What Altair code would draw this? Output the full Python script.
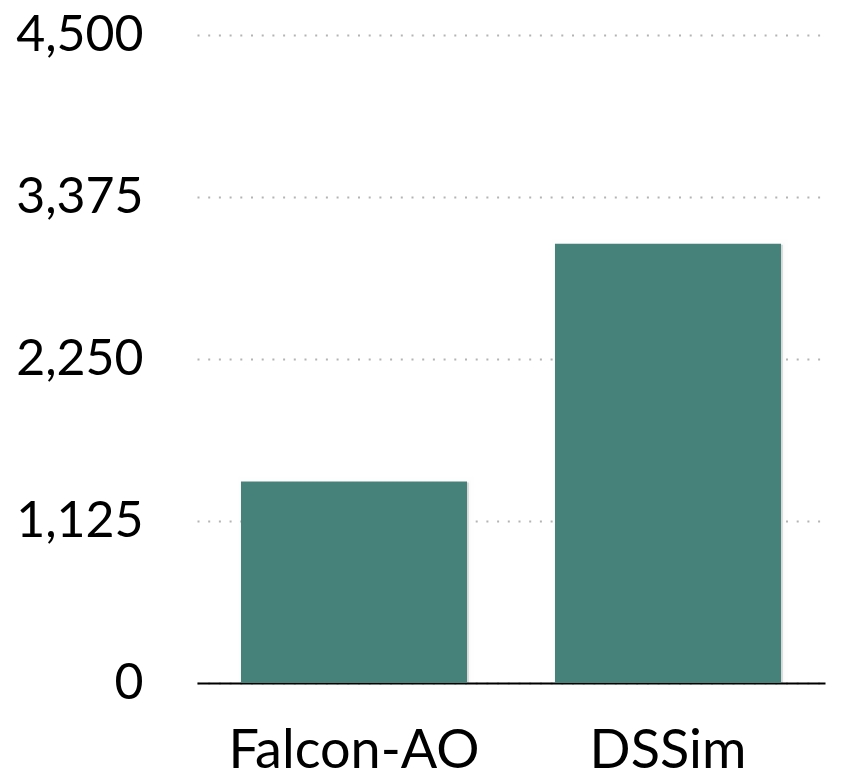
import altair as alt
import pandas as pd

categories = ["Falcon-AO", "DSSim"]
values = [1400, 3050]
y_ticks = [0, 1125, 2250, 3375, 4500]

df = pd.DataFrame({"system": categories, "value": values})

FONT = "Lato"
BAR = "#46817A"

x_enc = alt.X(
    "system:N",
    sort=categories,
    title=None,
    scale=alt.Scale(paddingInner=0.28, paddingOuter=0.14),
    axis=alt.Axis(
        labelAngle=0,
        labelFont=FONT,
        labelFontSize=54,
        labelColor="#000000",
        labelPadding=41,
        labelLimit=600,
        ticks=False,
        domain=True,
        domainColor="#000000",
        domainWidth=2,
        grid=False,
    ),
)
y_enc = alt.Y(
    "value:Q",
    title=None,
    scale=alt.Scale(domain=[0, 4500], nice=False),
    axis=alt.Axis(
        values=y_ticks,
        format=",.0f",
        labelFont=FONT,
        labelFontSize=50,
        labelColor="#000000",
        labelPadding=54,
        labelLimit=600,
        labelOverlap=False,
        ticks=False,
        domain=False,
        grid=True,
        gridColor="#b4b4b4",
        gridWidth=2,
        gridDash=[2, 8.7],
    ),
)

base = alt.Chart(df)

shadow1 = base.mark_bar(
    color="#000000", opacity=0.05, stroke="#000000", strokeWidth=10, strokeOpacity=0.04,
    xOffset=2, yOffset=1,
).encode(x=x_enc, y=y_enc)
shadow2 = base.mark_bar(
    color="#000000", opacity=0.08, stroke="#000000", strokeWidth=4, strokeOpacity=0.08,
    xOffset=2, yOffset=1,
).encode(x=x_enc, y=y_enc)
bars = base.mark_bar(color=BAR).encode(x=x_enc, y=y_enc)

chart = (
    alt.layer(shadow1, shadow2, bars)
    .properties(
        width=628,
        height=648,
        autosize=alt.AutoSizeParams(type="none"),
        padding={"left": 189, "top": 27, "right": 17, "bottom": 90},
        view=alt.ViewBackground(strokeWidth=0, strokeOpacity=0),
    )
    .configure_view(strokeWidth=0, strokeOpacity=0)
    .configure(background="#ffffff")
)

chart.save("out.html", embed_options={"renderer": "svg", "actions": False})
